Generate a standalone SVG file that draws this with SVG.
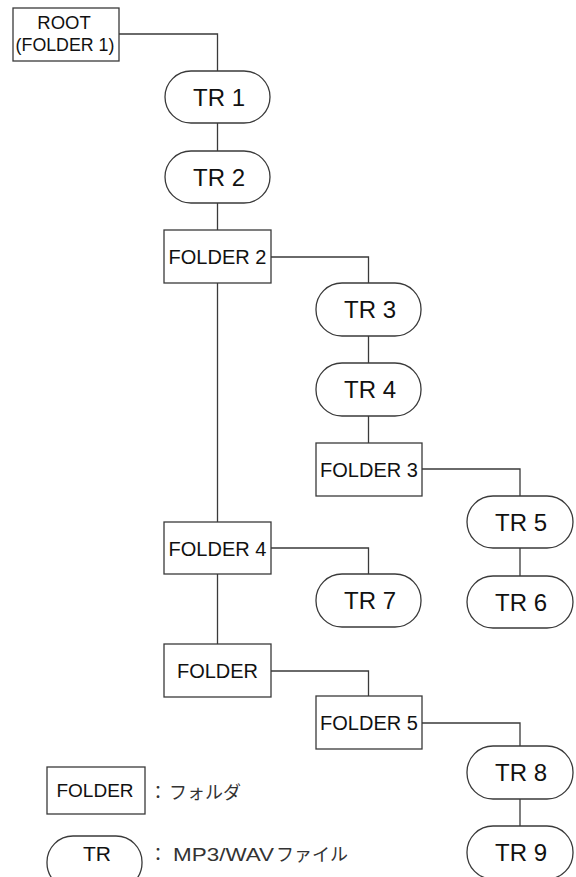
<svg xmlns="http://www.w3.org/2000/svg" width="576" height="877" viewBox="0 0 576 877">
<style>
.box{fill:#fff;stroke:#3a3a3a;stroke-width:1.3}
.ln{fill:none;stroke:#3a3a3a;stroke-width:1.3}
.t{font-family:"Liberation Sans",Arial,sans-serif;fill:#111;text-anchor:middle}
.tr{font-size:24px}
.fd{font-size:20px}
.jp{font-family:"Liberation Sans","Noto Sans CJK JP",sans-serif;font-size:18px;fill:#333}
</style>
<rect width="576" height="877" fill="#fff"/>
<g id="connectors">
<path class="ln" d="M119,34 H217.5 V71"/>
<path class="ln" d="M217.5,123 V151"/>
<path class="ln" d="M217.5,203 V230"/>
<path class="ln" d="M271,257 H368.5 V283"/>
<path class="ln" d="M217.5,283 V522"/>
<path class="ln" d="M368.5,336 V363"/>
<path class="ln" d="M368.5,416 V443"/>
<path class="ln" d="M422,469 H520 V496"/>
<path class="ln" d="M520,548 V576"/>
<path class="ln" d="M271,548 H368.5 V574"/>
<path class="ln" d="M217.5,574 V644"/>
<path class="ln" d="M271,671 H368.5 V696"/>
<path class="ln" d="M422,723 H520 V746"/>
<path class="ln" d="M520,799 V826"/>
</g>
<g id="root">
<rect class="box" x="13" y="8" width="106" height="53"/>
<text class="t" x="64" y="29" font-size="18.5">ROOT</text>
<text class="t" x="65" y="51" font-size="17.8">(FOLDER 1)</text>
</g>
<g id="tr1"><rect class="box" x="165" y="71" width="105" height="52" rx="26"/><text class="t tr" x="219" y="106">TR 1</text></g>
<g id="tr2"><rect class="box" x="165" y="151" width="105" height="52" rx="26"/><text class="t tr" x="219" y="186">TR 2</text></g>
<g id="folder2"><rect class="box" x="164" y="230" width="107" height="53"/><text class="t fd" x="217.5" y="264">FOLDER 2</text></g>
<g id="tr3"><rect class="box" x="316" y="283" width="105" height="53" rx="26"/><text class="t tr" x="370" y="318">TR 3</text></g>
<g id="tr4"><rect class="box" x="316" y="363" width="105" height="53" rx="26"/><text class="t tr" x="370" y="398">TR 4</text></g>
<g id="folder3"><rect class="box" x="316" y="443" width="106" height="53"/><text class="t fd" x="369" y="477">FOLDER 3</text></g>
<g id="tr5"><rect class="box" x="467" y="496" width="106" height="52" rx="26"/><text class="t tr" x="521" y="531">TR 5</text></g>
<g id="tr6"><rect class="box" x="467" y="576" width="106" height="52" rx="26"/><text class="t tr" x="521" y="611">TR 6</text></g>
<g id="folder4"><rect class="box" x="164" y="522" width="107" height="52"/><text class="t fd" x="217.5" y="556">FOLDER 4</text></g>
<g id="tr7"><rect class="box" x="316" y="574" width="105" height="53" rx="26"/><text class="t tr" x="370" y="609">TR 7</text></g>
<g id="folder"><rect class="box" x="164" y="644" width="107" height="53"/><text class="t fd" x="217.5" y="678">FOLDER</text></g>
<g id="folder5"><rect class="box" x="316" y="696" width="106" height="53"/><text class="t fd" x="369" y="730">FOLDER 5</text></g>
<g id="tr8"><rect class="box" x="467" y="746" width="106" height="53" rx="26"/><text class="t tr" x="521" y="781">TR 8</text></g>
<g id="tr9"><rect class="box" x="467" y="826" width="106" height="53" rx="26"/><text class="t tr" x="521" y="861">TR 9</text></g>
<g id="legend-folder">
<rect class="box" x="47" y="767" width="98" height="47"/>
<text class="t" x="95" y="797" font-size="19">FOLDER</text>
<text class="jp" x="149" y="799">：</text>
<text class="jp" x="169" y="799">フォルダ</text>
</g>
<g id="legend-tr">
<rect class="box" x="47" y="836" width="95" height="53" rx="26"/>
<text class="t" x="97" y="861" font-size="21">TR</text>
<text class="jp" x="149" y="861">：</text>
<text class="jp" x="173" y="861"><tspan font-size="19" textLength="101" lengthAdjust="spacingAndGlyphs">MP3/WAV</tspan><tspan x="276">ファイル</tspan></text>
</g>
</svg>
